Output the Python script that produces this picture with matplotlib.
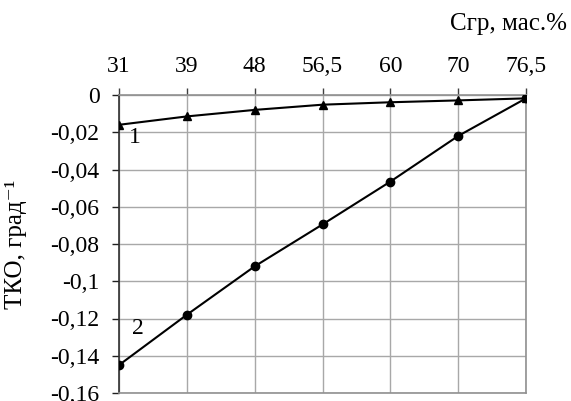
import matplotlib
matplotlib.use("Agg")
import matplotlib.pyplot as plt

categories = ["31", "39", "48", "56,5", "60", "70", "76,5"]
series1 = [-0.016, -0.0115, -0.008, -0.0052, -0.0039, -0.0029, -0.0018]
series2 = [-0.145, -0.118, -0.092, -0.0695, -0.0465, -0.022, -0.0018]
yticks = [0, -0.02, -0.04, -0.06, -0.08, -0.1, -0.12, -0.14, -0.16]
ytick_labels = ["0", "-0,02", "-0,04", "-0,06", "-0,08", "-0,1", "-0,12", "-0,14", "-0,16"]

plt.rcParams['font.family'] = ['Liberation Serif', 'DejaVu Serif']

fig = plt.figure(figsize=(5.71, 4.01), dpi=100)
ax = fig.add_axes([119/571, 8/401, 407/571, 298/401])

x = list(range(len(categories)))
ax.plot(x, series1, color='black', lw=1.5, marker='^', ms=6, zorder=3)
ax.plot(x, series2, color='black', lw=1.5, marker='o', ms=6, zorder=3)

ax.set_xlim(0, len(categories) - 1)
ax.set_ylim(-0.16, 0)
ax.set_xticks(x)
ax.set_xticklabels(categories)
ax.set_yticks(yticks)
ax.set_yticklabels(ytick_labels)
ax.xaxis.tick_top()
ax.tick_params(axis='x', direction='out', length=5, width=1, color='#404040',
               labelsize=17, pad=8)
ax.tick_params(axis='y', direction='out', length=5, width=1, color='#202020',
               labelsize=17, pad=9)

ax.grid(True, color='#a8a8a8', lw=1)
ax.set_axisbelow(True)
for side in ['top', 'bottom', 'right']:
    ax.spines[side].set_color('#909090')
    ax.spines[side].set_linewidth(1.2)
ax.spines['left'].set_color('#303030')
ax.spines['left'].set_linewidth(1.2)

ax.set_ylabel('ТКО, град⁻¹', fontsize=18)
ax.yaxis.set_label_coords(-0.225, 0.5)

ax.text(0.24, -0.023, '1', fontsize=17, ha='center', va='center')
ax.text(0.28, -0.1255, '2', fontsize=17, ha='center', va='center')

fig.text(567/571, 1 - 24/401, 'Сгр, мас.%', fontsize=18, ha='right', va='center')

fig.savefig('out.png', dpi=100)
